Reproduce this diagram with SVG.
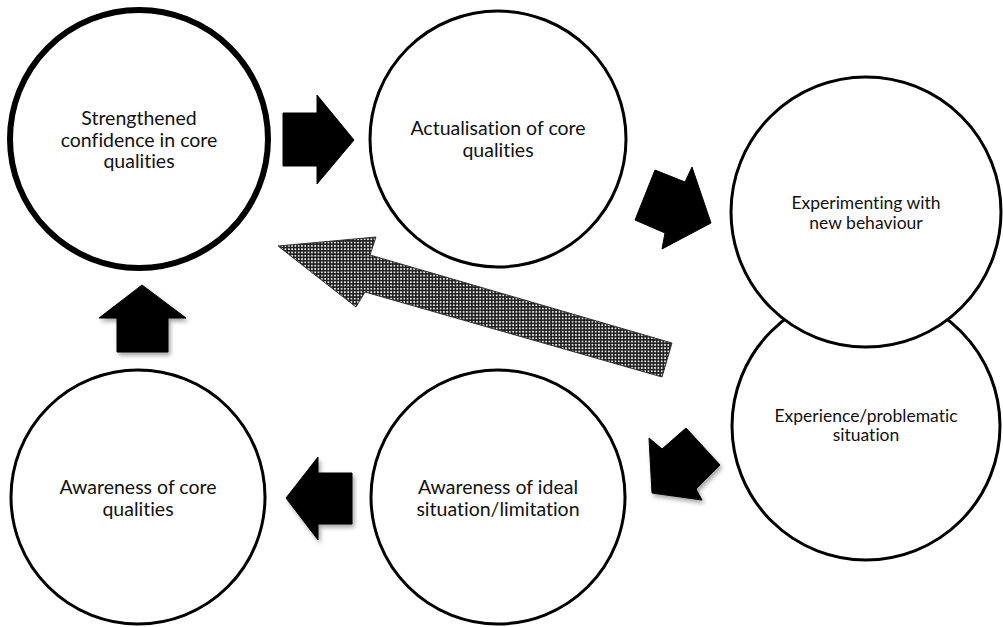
<svg xmlns="http://www.w3.org/2000/svg" width="1003" height="627" viewBox="0 0 1003 627">
  <style>
    .node { fill: #ffffff; stroke: #000000; stroke-width: 3; }
    .thick { stroke-width: 6; }
    .lbl { font-family: Lato, "Open Sans", "Liberation Sans", sans-serif; font-size: 19.5px; fill: #111111; text-anchor: middle; font-variant-ligatures: none; }
    .sm { font-size: 17.5px; }
    .arrow { fill: #000000; stroke: #000000; stroke-width: 1; stroke-linejoin: round; }
    .hatch { fill: url(#dots); stroke: #333333; stroke-width: 1; }
  </style>
  <defs>
    <pattern id="dots" width="3.3" height="3.3" patternUnits="userSpaceOnUse">
      <rect width="3.3" height="3.3" fill="#222222"/>
      <rect x="0.9" y="0.9" width="1.6" height="1.6" fill="#ffffff"/>
    </pattern>
    <filter id="shadow" x="-20%" y="-20%" width="150%" height="150%">
      <feDropShadow dx="2" dy="3" stdDeviation="2" flood-color="#000000" flood-opacity="0.35"/>
    </filter>
  </defs>
  <rect width="1003" height="627" fill="#ffffff"/>

  <g id="connectors">
    <path class="arrow" d="M283,113 L317,113 L317,95 L354,140 L317,184 L317,166 L283,166 Z"/>
    <path class="arrow" d="M655,170 L685,182 L692,167 L711,223 L662,249 L665,233 L635,220 Z"/>
    <path class="arrow" filter="url(#shadow)" d="M649,438 L662,449 L686,428 L720,465 L696,489 L702,500 L652,493 Z"/>
    <path class="arrow" filter="url(#shadow)" d="M352,473 L318,473 L318,457 L286,498 L318,540 L318,524 L352,524 Z"/>
    <path class="arrow" filter="url(#shadow)" d="M117,352 L117,318 L99,318 L142,285 L186,318 L168,318 L168,352 Z"/>
    <path class="hatch" d="M278,246 L376,237 L370,255 L672,343 L662,377 L365,292 L356,307 Z"/>
  </g>

  <g id="node-strengthened">
    <circle class="node thick" cx="139" cy="139" r="129"/>
    <text class="lbl" x="139" y="125">Strengthened</text>
    <text class="lbl" x="139" y="147">confidence in core</text>
    <text class="lbl" x="139" y="168">qualities</text>
  </g>

  <g id="node-actualisation">
    <circle class="node" cx="498" cy="139" r="128"/>
    <text class="lbl" x="498" y="135">Actualisation of core</text>
    <text class="lbl" x="498" y="157">qualities</text>
  </g>

  <g id="node-experience">
    <circle class="node" cx="866" cy="426" r="134"/>
    <text class="lbl sm" x="866" y="422">Experience/problematic</text>
    <text class="lbl sm" x="866" y="441">situation</text>
  </g>

  <g id="node-experimenting">
    <circle class="node" cx="866" cy="212" r="135"/>
    <text class="lbl sm" x="866" y="209">Experimenting with</text>
    <text class="lbl sm" x="866" y="229">new behaviour</text>
  </g>

  <g id="node-awareness-ideal">
    <circle class="node" cx="498" cy="497" r="127"/>
    <text class="lbl" x="498" y="494">Awareness of ideal</text>
    <text class="lbl" x="498" y="516">situation/limitation</text>
  </g>

  <g id="node-awareness-core">
    <circle class="node" cx="138" cy="497" r="127"/>
    <text class="lbl" x="138" y="494">Awareness of core</text>
    <text class="lbl" x="138" y="516">qualities</text>
  </g>
</svg>
